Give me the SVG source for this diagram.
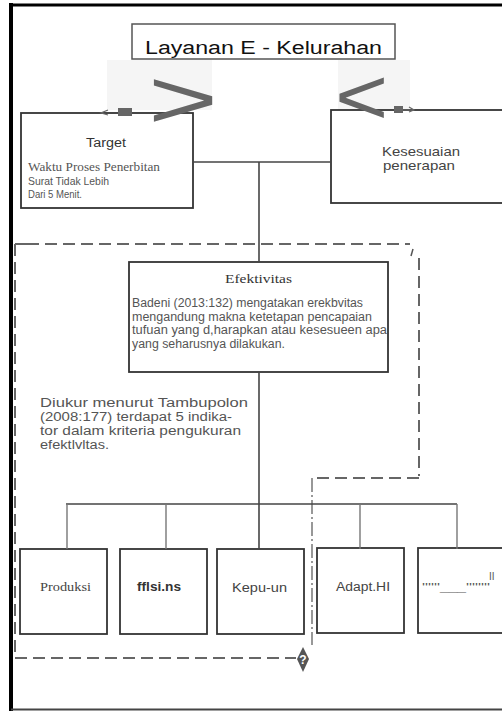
<svg xmlns="http://www.w3.org/2000/svg" width="502" height="712" viewBox="0 0 502 712">
<style>
.box{fill:#fff;stroke:#333;stroke-width:1.8}
.sans{font-family:"Liberation Sans","DejaVu Sans",Arial,sans-serif}
.serif{font-family:"Liberation Serif","DejaVu Serif",serif}
.conn{stroke:#444;stroke-width:1.6;fill:none}
.tick{stroke:#777;stroke-width:1.4;fill:none}
.dash{stroke:#666;stroke-width:2;fill:none;stroke-dasharray:12 6}
.body{fill:#555;font-size:12px}
.diuk{fill:#555;font-size:12.5px}
</style>
<rect width="502" height="712" fill="#fff"/>
<g id="frame">
<line x1="11" y1="3" x2="11" y2="711" stroke="#000" stroke-width="4"/>
<line x1="9" y1="5" x2="502" y2="5" stroke="#000" stroke-width="3"/>
<line x1="11" y1="709.5" x2="502" y2="709.5" stroke="#444" stroke-width="2"/>
</g>
<rect x="107" y="60" width="105" height="50" fill="#f5f5f5"/>
<rect x="338" y="60" width="72" height="50" fill="#f5f5f5"/>
<g id="boundary">
<line class="dash" x1="27" y1="244" x2="410" y2="244"/>
<line x1="15" y1="244" x2="27" y2="244" stroke="#666" stroke-width="2"/>
<line class="dash" x1="15" y1="244" x2="15" y2="658"/>
<line class="dash" x1="15" y1="658" x2="296" y2="658"/>
<line x1="411" y1="256" x2="413" y2="249" stroke="#555" stroke-width="1.5"/>
<line class="dash" x1="419" y1="258" x2="419" y2="476"/>
<line class="dash" x1="419" y1="478" x2="312" y2="478"/>
<line x1="312" y1="478" x2="312" y2="645" stroke="#777" stroke-width="1.5" stroke-dasharray="14 3 2 3"/>
<path d="M303 647 L309 659 L303 672 L297 659 Z" fill="#555"/>
<text class="sans" x="303" y="664" font-size="12" font-weight="bold" fill="#fff" text-anchor="middle">?</text>
</g>
<g id="title">
<rect x="132" y="24" width="263" height="35" fill="#fff" stroke="#555" stroke-width="1.5"/>
<text class="sans" x="145" y="54" font-size="18" fill="#111" textLength="237" lengthAdjust="spacingAndGlyphs">Layanan E - Kelurahan</text>
</g>
<g id="target">
<rect class="box" x="21" y="113" width="172" height="95"/>
<text class="sans" x="86" y="147" font-size="12" fill="#333" textLength="40" lengthAdjust="spacingAndGlyphs">Target</text>
<text class="serif" x="28" y="171" font-size="11.5" fill="#555" textLength="132" lengthAdjust="spacingAndGlyphs">Waktu Proses Penerbitan</text>
<text class="sans" x="28" y="185" font-size="11" fill="#555" textLength="81" lengthAdjust="spacingAndGlyphs">Surat Tidak Lebih</text>
<text class="sans" x="28" y="198" font-size="11" fill="#555" textLength="54" lengthAdjust="spacingAndGlyphs">Dari 5 Menit.</text>
</g>
<g id="kesesuaian">
<rect class="box" x="331" y="110" width="185" height="93"/>
<text class="sans" x="382" y="156" font-size="13" fill="#444" textLength="78" lengthAdjust="spacingAndGlyphs">Kesesuaian</text>
<text class="sans" x="383" y="170" font-size="13" fill="#444" textLength="72" lengthAdjust="spacingAndGlyphs">penerapan</text>
</g>
<g id="efektivitas">
<rect class="box" x="129" y="262" width="259" height="110"/>
<text class="serif" x="225" y="283" font-size="12" fill="#333" textLength="67" lengthAdjust="spacingAndGlyphs">Efektivitas</text>
<text class="sans body" x="132" y="307" textLength="231" lengthAdjust="spacingAndGlyphs">Badeni (2013:132) mengatakan erekbvitas</text>
<text class="sans body" x="132" y="321" textLength="240" lengthAdjust="spacingAndGlyphs">mengandung makna ketetapan pencapaian</text>
<text class="sans body" x="132" y="334" textLength="255" lengthAdjust="spacingAndGlyphs">tufuan yang d,harapkan atau kesesueen apa</text>
<text class="sans body" x="132" y="348" textLength="153" lengthAdjust="spacingAndGlyphs">yang seharusnya dilakukan.</text>
</g>
<g id="diukur">
<text class="sans diuk" x="40" y="407" textLength="208" lengthAdjust="spacingAndGlyphs">Diukur menurut Tambupolon</text>
<text class="sans diuk" x="40" y="421" textLength="192" lengthAdjust="spacingAndGlyphs">(2008:177) terdapat 5 indika-</text>
<text class="sans diuk" x="40" y="435" textLength="201" lengthAdjust="spacingAndGlyphs">tor dalam  kriteria pengukuran</text>
<text class="sans diuk" x="40" y="449" textLength="69" lengthAdjust="spacingAndGlyphs">efektlvltas.</text>
</g>
<g id="produksi">
<rect class="box" x="20" y="549" width="87" height="85"/>
<text class="serif" x="40" y="591" font-size="12" fill="#444" textLength="51" lengthAdjust="spacingAndGlyphs">Produksi</text>
</g>
<g id="efisiensi">
<rect class="box" x="120" y="549" width="87" height="85"/>
<text class="sans" x="137" y="591" font-size="12" font-weight="bold" fill="#333" textLength="44" lengthAdjust="spacingAndGlyphs">fflsi.ns</text>
</g>
<g id="kepuasan">
<rect class="box" x="217" y="549" width="87" height="85"/>
<text class="sans" x="232" y="592" font-size="12" fill="#444" textLength="55" lengthAdjust="spacingAndGlyphs">Kepu-un</text>
</g>
<g id="adaptasi">
<rect class="box" x="317" y="548" width="87" height="85"/>
<text class="sans" x="336" y="591" font-size="12" fill="#444" textLength="54" lengthAdjust="spacingAndGlyphs">Adapt.HI</text>
</g>
<g id="kelima">
<rect class="box" x="418" y="548" width="95" height="85"/>
<text class="sans" x="489" y="580" font-size="10" fill="#555">II</text>
<text class="sans" x="422" y="591" font-size="10" fill="#555" textLength="68" lengthAdjust="spacingAndGlyphs">''''''___''''''''</text>
</g>
<g id="connectors">
<line class="conn" x1="193" y1="162" x2="331" y2="162"/>
<line class="conn" x1="259" y1="162" x2="259" y2="262"/>
<line class="conn" x1="259" y1="372" x2="259" y2="549"/>
<line class="conn" x1="66" y1="504" x2="457" y2="504"/>
<line class="tick" x1="67" y1="504" x2="67" y2="549"/>
<line class="tick" x1="166" y1="504" x2="166" y2="549"/>
<line class="tick" x1="360" y1="504" x2="360" y2="549"/>
<line class="tick" x1="457" y1="504" x2="457" y2="549"/>
<text class="sans" font-size="80" fill="#666" transform="translate(148,128) scale(1.5,1.05)" x="0" y="0">&gt;</text>
<text class="sans" font-size="76" fill="#666" transform="translate(335,124) scale(1.2,1.05)" x="0" y="0">&lt;</text>
<rect x="118" y="108" width="14" height="8" fill="#666"/>
<rect x="394" y="106" width="9" height="7" fill="#666"/>
<path d="M108 110 L101 113 L108 115" stroke="#666" stroke-width="1.2" fill="none"/>
<path d="M409 107 L414 110 L409 112" stroke="#666" stroke-width="1.2" fill="none"/>
<line x1="403" y1="110" x2="414" y2="110" stroke="#666" stroke-width="1.2"/>
</g>
</svg>
